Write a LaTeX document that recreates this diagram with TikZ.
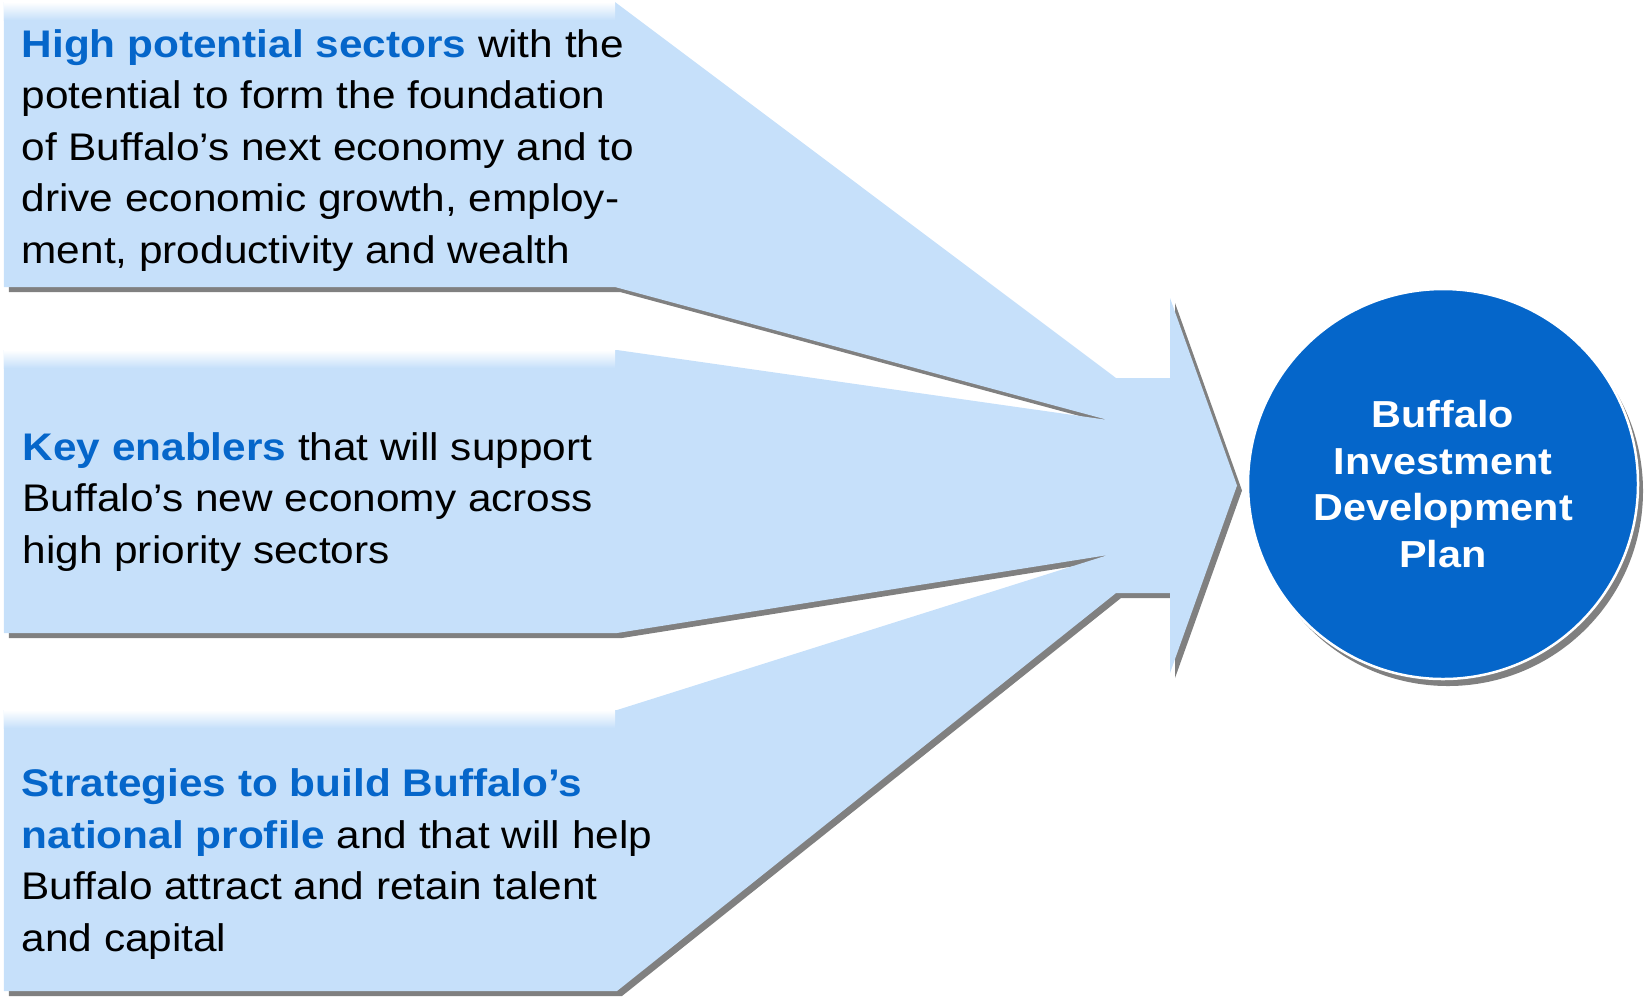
\documentclass[tikz,border=0pt]{standalone}
\usepackage{fontspec}
\setmainfont[FakeStretch=1.1]{Liberation Sans}
\usetikzlibrary{shadows}

\definecolor{boxblue}{RGB}{198,224,250}
\definecolor{planblue}{RGB}{5,102,202}
\definecolor{shadowgray}{RGB}{128,128,128}

\newcommand{\keyterm}[1]{\textbf{\color{planblue}#1}}
% three boxes narrowing into one arrow
\newcommand{\funnelpath}{(0.04,-0.02) -- (6.15,-0.02) -- (11.16,-3.78) -- (11.70,-3.78)
  -- (11.70,-2.98) -- (12.37,-4.855) -- (11.70,-6.73) -- (11.70,-5.93) -- (11.16,-5.93)
  -- (6.17,-9.91) -- (0.04,-9.91) -- (0.04,-7.10) -- (6.17,-7.10) -- (11.08,-5.55)
  -- (6.17,-6.33) -- (0.04,-6.33) -- (0.04,-3.50) -- (6.17,-3.50) -- (11.08,-4.20)
  -- (6.15,-2.87) -- (0.04,-2.87) -- cycle}

\tikzset{
  blocktext/.style={anchor=base west, align=left, inner sep=0pt,
    font=\fontsize{10.95}{14.65}\selectfont},
  plancircle/.style={circle, inner sep=0pt, minimum size=3.9cm, fill=planblue,
    draw=white, line width=0.025cm, text=white, align=center,
    font=\bfseries\fontsize{10.7}{13.2}\selectfont,
    drop shadow={shadow xshift=0.05cm, shadow yshift=-0.07cm, fill=shadowgray, opacity=1}}
}

\begin{document}
\begin{tikzpicture}
  \useasboundingbox (0,0) rectangle (16.49,-9.98);

  \fill[shadowgray, shift={(0.05,-0.05)}] \funnelpath;
  \fill[boxblue] \funnelpath;
  \foreach \y in {0.02,3.50,7.10}
    \shade[top color=white, bottom color=boxblue] (0.04,-\y) rectangle (6.15,-\y-0.18);

  % base anchor sits on the last line
  \node[blocktext] (sectors) at (0.21,-2.63) {\keyterm{High potential sectors} with the\\
    potential to form the foundation\\of Buffalo’s next economy and to\\
    drive economic growth, employ-\\ment, productivity and wealth};
  \node[blocktext] (enablers) at (0.22,-5.63) {\keyterm{Key enablers} that will support\\
    Buffalo’s new economy across\\high priority sectors};
  \node[blocktext] (profile) at (0.21,-9.51) {\keyterm{Strategies to build Buffalo’s}\\
    \keyterm{national profile} and that will help\\Buffalo attract and retain talent\\and capital};

  \node[plancircle] (plan) at (14.43,-4.84) {Buffalo\\Investment\\Development\\Plan};
\end{tikzpicture}
\end{document}
